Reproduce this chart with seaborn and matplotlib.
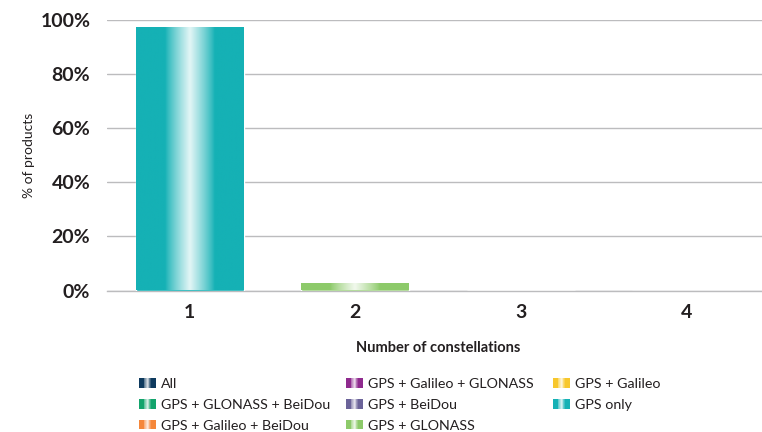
import matplotlib
matplotlib.use("Agg")
import matplotlib.pyplot as plt
import numpy as np
import pandas as pd
import seaborn as sns
from matplotlib.colors import to_rgb
from matplotlib.legend_handler import HandlerBase
from matplotlib.patches import Patch, Rectangle
from matplotlib.ticker import FixedLocator, PercentFormatter

# data
constellations = ["1", "2", "2", "2", "3", "3", "3", "4"]
combos = [
    "GPS only", "GPS + GLONASS", "GPS + Galileo", "GPS + BeiDou",
    "GPS + Galileo + GLONASS", "GPS + GLONASS + BeiDou", "GPS + Galileo + BeiDou", "All",
]
shares = [97.1, 2.3, 0.0, 0.0, 0.0, 0.0, 0.0, 0.0]

legend_order = [
    "All", "GPS + GLONASS + BeiDou", "GPS + Galileo + BeiDou",
    "GPS + Galileo + GLONASS", "GPS + BeiDou", "GPS + GLONASS",
    "GPS + Galileo", "GPS only",
]
palette = {
    "All": "#0e3a5e",
    "GPS + GLONASS + BeiDou": "#13a46c",
    "GPS + Galileo + BeiDou": "#f5873a",
    "GPS + Galileo + GLONASS": "#8f2a8e",
    "GPS + BeiDou": "#6b6399",
    "GPS + GLONASS": "#8dca6a",
    "GPS + Galileo": "#f7c72c",
    "GPS only": "#15b1b5",
}

TEXT = "#231f20"
GRID = "#bcbcbe"


def _gradient_row(color, n=200):
    # flat colour at the edges, fading to near-white in the middle
    t = np.linspace(0, 1, n)
    m = np.clip(1 - np.abs(t - 0.5) / 0.23, 0, 1)
    mix = 0.88 * m ** 0.85
    c = np.array(to_rgb(color))
    return (c[None, :] * (1 - mix[:, None]) + mix[:, None])[None, :, :]


class GradientHandler(HandlerBase):
    def create_artists(self, legend, orig_handle, xdescent, ydescent,
                       width, height, fontsize, trans):
        row = _gradient_row(orig_handle.get_facecolor(), n=24)[0]
        n = len(row)
        arts = []
        for i, col in enumerate(row):
            r = Rectangle((-xdescent + width * i / n, -ydescent), width / n + 0.05, height,
                          facecolor=col, edgecolor="none", transform=trans)
            arts.append(r)
        return arts


df = pd.DataFrame({"constellations": constellations, "combo": combos, "share": shares})

sns.set_theme(style="white")
plt.rcParams["font.family"] = ["Lato", "DejaVu Sans"]

fig = plt.figure(figsize=(7.62, 4.32), dpi=100)
ax = fig.add_axes([107 / 762, 1 - 290.5 / 432, 662 / 762, 270.5 / 432])

sns.barplot(data=df, x="constellations", y="share", hue="combo", palette=palette,
            order=["1", "2", "3", "4"], hue_order=legend_order, dodge=False,
            width=0.65, saturation=1, legend=False, ax=ax, zorder=3)

for p in list(ax.patches):
    h = p.get_height()
    if h <= 0:
        continue
    x0, w = p.get_x(), p.get_width()
    ax.imshow(_gradient_row(p.get_facecolor()), extent=[x0, x0 + w, 0, h],
              aspect="auto", zorder=3.5, interpolation="bilinear")

ax.set_xlim(-0.5, 3.5)
ax.set_ylim(0, 100)
ax.set_aspect("auto")

ax.yaxis.set_major_locator(FixedLocator([0, 20, 40, 60, 80, 100]))
ax.yaxis.set_major_formatter(PercentFormatter(decimals=0))
ax.grid(axis="y", color=GRID, linewidth=1.0, zorder=0)
ax.grid(axis="x", visible=False)
for s in ["top", "right", "left"]:
    ax.spines[s].set_visible(False)
ax.spines["bottom"].set_color(GRID)
ax.spines["bottom"].set_linewidth(1.0)

ax.tick_params(axis="y", length=0, pad=12, labelsize=14, labelcolor=TEXT)
ax.tick_params(axis="x", length=0, pad=10, labelsize=14, labelcolor=TEXT)
for lab in ax.get_yticklabels() + ax.get_xticklabels():
    lab.set_fontweight("bold")
ax.xaxis.set_minor_locator(FixedLocator([-0.5, 0.5, 1.5, 2.5, 3.5]))
ax.tick_params(axis="x", which="minor", direction="in", length=6, width=1, color=GRID)

ax.set_xlabel("Number of constellations", fontsize=10.5, fontweight="bold", color=TEXT, labelpad=14)
ax.set_ylabel("% of products", fontsize=10, color=TEXT, labelpad=4)

handles = [Patch(facecolor=palette[k], label=k) for k in legend_order]
col_x = [139 / 762, 346 / 762, 553 / 762]
groups = [handles[0:3], handles[3:6], handles[6:8]]
for x, grp in zip(col_x, groups):
    fig.legend(handles=grp, loc="upper left", bbox_to_anchor=(x, 1 - 378 / 432),
               frameon=False, fontsize=10.3, handler_map={Patch: GradientHandler()},
               handlelength=1.15, handleheight=0.65, handletextpad=0.4,
               labelspacing=0.62, borderaxespad=0, borderpad=0, labelcolor=TEXT)

fig.savefig("out.png", dpi=100)
